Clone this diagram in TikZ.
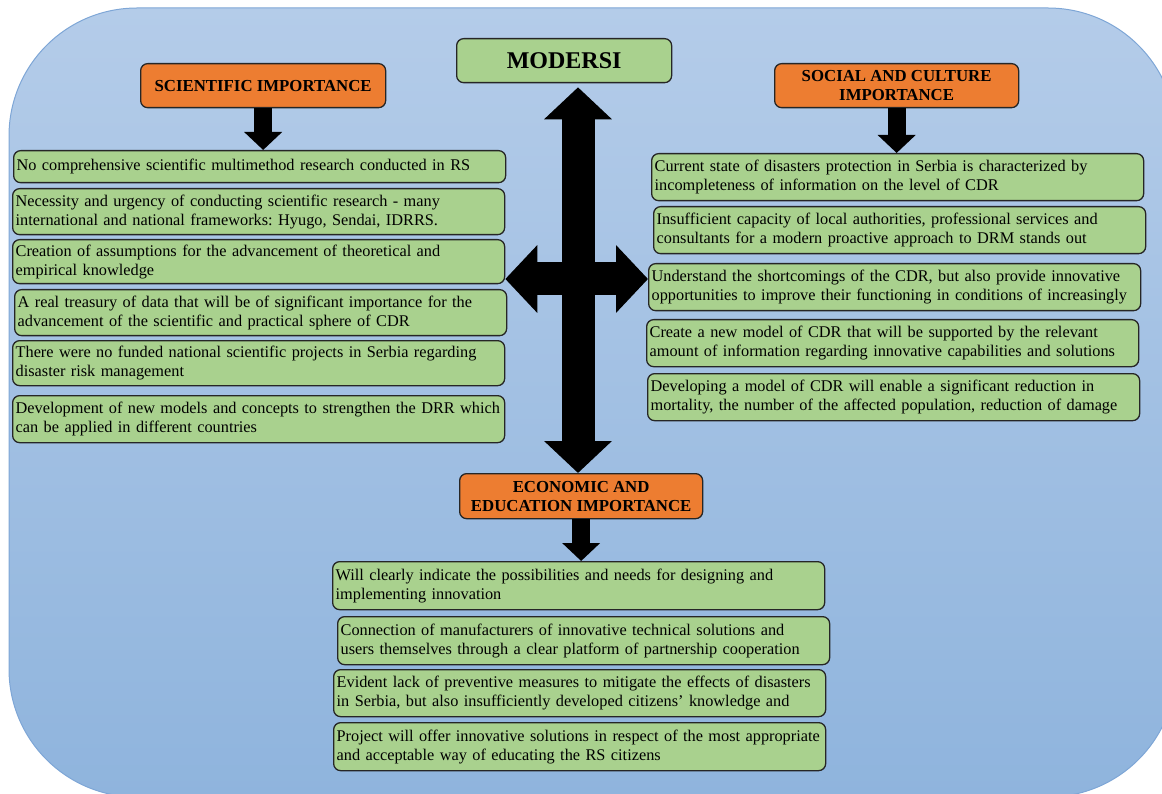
\documentclass[tikz,border=0pt]{standalone}
\usepackage{fontspec}
\setmainfont{Liberation Serif}
\usepackage{tikz}
\usetikzlibrary{shapes, arrows.meta, positioning, calc}
\frenchspacing

\definecolor{boxgreen}{HTML}{A9D18E}
\definecolor{headorange}{HTML}{ED7D31}
\definecolor{bgtop}{HTML}{B4CCE9}
\definecolor{bgbottom}{HTML}{8FB4DD}
\definecolor{bgedge}{HTML}{7EA6D6}

\begin{document}
\begin{tikzpicture}[x=1pt,y=-1pt,
	txt/.style={draw=black!85, line width=1.3pt, rounded corners=7pt, fill=boxgreen,
		anchor=north west, align=left, inner xsep=3pt, inner ysep=0pt,
		text width=486pt, font=\fontsize{16.3}{19}\selectfont},
	head/.style={draw=black!85, line width=1.3pt, rounded corners=7pt, fill=headorange,
		anchor=north west, align=center, inner sep=0pt, minimum height=44pt,
		font=\fontsize{16.8}{19}\selectfont\bfseries},
	fat/.style={line width=33pt, {Triangle[width=66pt,length=32pt]}-{Triangle[width=66pt,length=32pt]}},
	downarrow/.style={line width=18pt, -{Triangle[width=37pt,length=18pt]}}]

	% background
	\useasboundingbox (0,0) rectangle (1162,794);
	\begin{scope}
		\clip (0,0) rectangle (1162,794);
		\path[draw=bgedge, line width=1pt, top color=bgtop, bottom color=bgbottom,
			rounded corners=128pt] (9,8) rectangle (1176,797);
	\end{scope}

	% title and headers
	\node[head, fill=boxgreen, minimum width=215pt, font=\fontsize{24}{28}\selectfont\bfseries] (moder) at (456,38) {MODERSI};
	\node[head, minimum width=245pt] (sci) at (140,63) {SCIENTIFIC IMPORTANCE};
	\node[head, minimum width=244pt] (soc) at (774,63) {SOCIAL AND CULTURE\\IMPORTANCE};
	\node[head, minimum width=243pt, minimum height=45pt] (econ) at (459,473) {ECONOMIC AND\\EDUCATION IMPORTANCE};

	% scientific
	\node[txt, minimum height=32pt] (s1) at (13,150) {No comprehensive scientific multimethod research conducted in RS};
	\node[txt, minimum height=46pt] (s2) at (12,188) {Necessity and urgency of conducting scientific research - many\\international and national frameworks: Hyugo, Sendai, IDRRS.};
	\node[txt, minimum height=44pt] (s3) at (12,239) {Creation of assumptions for the advancement of theoretical and\\empirical knowledge};
	\node[txt, minimum height=46pt] (s4) at (14,289) {A real treasury of data that will be of significant importance for the\\advancement of the scientific and practical sphere of CDR};
	\node[txt, minimum height=45pt] (s5) at (12,340) {There were no funded national scientific projects in Serbia regarding\\disaster risk management};
	\node[txt, minimum height=47pt] (s6) at (12,395) {Development of new models and concepts to strengthen the DRR which\\can be applied in different countries};

	% social
	\node[txt, minimum height=47pt] (r1) at (651,153) {Current state of disasters protection in Serbia is characterized by\\incompleteness of information on the level of CDR};
	\node[txt, minimum height=47pt] (r2) at (653,206) {Insufficient capacity of local authorities, professional services and\\consultants for a modern proactive approach to DRM stands out};
	\node[txt, minimum height=47pt] (r3) at (648,263) {Understand the shortcomings of the CDR, but also provide innovative\\opportunities to improve their functioning in conditions of increasingly};
	\node[txt, minimum height=47pt] (r4) at (646,319) {Create a new model of CDR that will be supported by the relevant\\amount of information regarding innovative capabilities and solutions};
	\node[txt, minimum height=47pt] (r5) at (647,373) {Developing a model of CDR will enable a significant reduction in\\mortality, the number of the affected population, reduction of damage};

	% economic
	\node[txt, minimum height=48pt] (e1) at (332,561) {Will clearly indicate the possibilities and needs for designing and\\implementing innovation};
	\node[txt, minimum height=48pt] (e2) at (337,616) {Connection of manufacturers of innovative technical solutions and\\users themselves through a clear platform of partnership cooperation};
	\node[txt, minimum height=47pt] (e3) at (333,669) {Evident lack of preventive measures to mitigate the effects of disasters\\in Serbia, but also insufficiently developed citizens' knowledge and};
	\node[txt, minimum height=48pt] (e4) at (333,722) {Project will offer innovative solutions in respect of the most appropriate\\and acceptable way of educating the RS citizens};

	% arrows
	\coordinate (hub) at (578,279);
	\draw[fat, shorten <=4pt] (moder.south -| hub) -- (econ.north -| hub);
	\draw[fat] (hub -| s3.east) -- (hub -| r3.west);
	\draw[downarrow] (sci.south) -- (sci.south |- s1.north);
	\draw[downarrow] (soc.south) -- (soc.south |- r1.north);
	\draw[downarrow] (econ.south) -- (econ.south |- e1.north);
\end{tikzpicture}
\end{document}
